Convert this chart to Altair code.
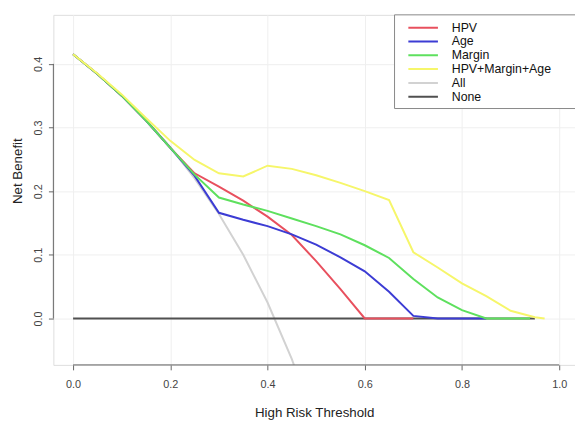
import altair as alt
import pandas as pd

# ---- data ----
series_names = ["HPV", "Age", "Margin", "HPV+Margin+Age", "All", "None"]
series_colors = ["#e8505e", "#3c3cd4", "#5ee05e", "#f6f66a", "#d2d2d2", "#505050"]
series_widths = [2, 2, 2, 2.2, 1.5, 1.5]
draw_order = ["All", "None", "HPV", "Age", "Margin", "HPV+Margin+Age"]

hpv_x = [0, 0.05, 0.1, 0.15, 0.2, 0.25, 0.3, 0.35, 0.4, 0.45, 0.5, 0.55, 0.6, 0.65, 0.7]
hpv_y = [0.415, 0.384, 0.35, 0.311, 0.268, 0.228, 0.207, 0.185, 0.16, 0.131, 0.09, 0.046, 0.0, 0.0, 0.0]

age_x = [0, 0.05, 0.1, 0.15, 0.2, 0.25, 0.3, 0.35, 0.4, 0.45, 0.5, 0.55, 0.6, 0.65, 0.7, 0.75, 0.8, 0.85]
age_y = [0.415, 0.384, 0.35, 0.311, 0.268, 0.224, 0.166, 0.155, 0.145, 0.132, 0.116, 0.096, 0.074, 0.042, 0.004, 0.0, 0.0, 0.0]

margin_x = [0, 0.05, 0.1, 0.15, 0.2, 0.25, 0.3, 0.35, 0.4, 0.45, 0.5, 0.55, 0.6, 0.65, 0.7, 0.75, 0.8, 0.85, 0.9, 0.94]
margin_y = [0.415, 0.384, 0.35, 0.311, 0.268, 0.226, 0.19, 0.179, 0.169, 0.157, 0.145, 0.132, 0.115, 0.095, 0.062, 0.033, 0.013, 0.0, 0.0, 0.0]

combo_x = [0, 0.05, 0.1, 0.15, 0.2, 0.25, 0.3, 0.35, 0.4, 0.45, 0.5, 0.55, 0.6, 0.65, 0.7, 0.75, 0.8, 0.85, 0.9, 0.95, 0.97]
combo_y = [0.415, 0.385, 0.352, 0.315, 0.279, 0.249, 0.228, 0.223, 0.24, 0.235, 0.225, 0.213, 0.2, 0.186, 0.104, 0.08, 0.055, 0.035, 0.012, 0.002, 0.0]

all_x = [0, 0.05, 0.1, 0.15, 0.2, 0.25, 0.3, 0.35, 0.4, 0.45, 0.5]
all_y = [0.415, 0.384, 0.35, 0.312, 0.269, 0.22, 0.164, 0.1, 0.025, -0.064, -0.17]

none_x = [0, 0.95]
none_y = [0.0, 0.0]

x_ticks = [0.0, 0.2, 0.4, 0.6, 0.8, 1.0]
y_ticks = [0.0, 0.1, 0.2, 0.3, 0.4]
x_domain = [-0.0406, 1.0325]
y_domain = [-0.073, 0.477]

series_data = {
    "HPV": (hpv_x, hpv_y),
    "Age": (age_x, age_y),
    "Margin": (margin_x, margin_y),
    "HPV+Margin+Age": (combo_x, combo_y),
    "All": (all_x, all_y),
    "None": (none_x, none_y),
}

rows = []
for name in draw_order:
    xs, ys = series_data[name]
    for i, (xv, yv) in enumerate(zip(xs, ys)):
        rows.append({"series": name, "t": xv, "nb": yv, "i": i})
df = pd.DataFrame(rows)

W, H = 529, 355
FONT = "Liberation Sans"

lines = alt.Chart(df).mark_line(clip=True).encode(
    x=alt.X("t:Q", scale=alt.Scale(domain=x_domain, nice=False, zero=False),
            axis=alt.Axis(values=x_ticks, format=".1f", title="High Risk Threshold",
                          domain=False, tickSize=5, tickColor="#666", tickWidth=1,
                          labelFontSize=11, labelColor="#444", labelPadding=9,
                          labelFont=FONT, titleFont=FONT, titleFontSize=13.5,
                          titleFontWeight="normal", titleColor="#222",
                          titleY=48, titleBaseline="middle",
                          grid=True, gridColor="#efefef")),
    y=alt.Y("nb:Q", scale=alt.Scale(domain=y_domain, nice=False, zero=False),
            axis=alt.Axis(values=y_ticks, format=".1f", title="Net Benefit",
                          domain=False, tickSize=5, tickColor="#666", tickWidth=1,
                          labelFontSize=11, labelColor="#444", labelPadding=5,
                          labelAngle=270, labelAlign="center", labelBaseline="bottom",
                          labelFont=FONT, titleFont=FONT, titleFontSize=13.5,
                          titleFontWeight="normal", titleColor="#222",
                          titleAngle=270, titleX=-36, titleY=158,
                          titleAlign="center", titleBaseline="middle",
                          grid=True, gridColor="#efefef")),
    color=alt.Color("series:N",
                    scale=alt.Scale(domain=series_names, range=series_colors),
                    legend=alt.Legend(title=None, orient="none", legendX=346, legendY=0,
                                      symbolType="stroke", symbolSize=900,
                                      symbolStrokeWidth=2, clipHeight=14, rowPadding=0,
                                      padding=6, symbolOffset=7, labelOffset=13,
                                      labelFont=FONT, labelFontSize=12.5,
                                      labelColor="#111")),
    strokeWidth=alt.StrokeWidth("series:N",
                                scale=alt.Scale(domain=series_names, range=series_widths),
                                legend=None),
    order=alt.Order("i:Q"),
)

axis_x_df = pd.DataFrame({"a": [x_ticks[0]], "b": [x_ticks[-1]]})
axis_y_df = pd.DataFrame({"a": [y_ticks[0]], "b": [y_ticks[-1]]})

x_axis_line = alt.Chart(axis_x_df).mark_rule(color="#666", strokeWidth=1).encode(
    x=alt.X("a:Q"), x2="b:Q", y=alt.value(H))
y_axis_line = alt.Chart(axis_y_df).mark_rule(color="#666", strokeWidth=1).encode(
    y=alt.Y("a:Q"), y2="b:Q", x=alt.value(0))

legend_box = alt.Chart(axis_x_df).mark_rect(fill="white", stroke="#888", strokeWidth=1).encode(
    x=alt.value(346), x2=alt.value(531), y=alt.value(0), y2=alt.value(95))

chart = alt.layer(lines, legend_box, x_axis_line, y_axis_line).properties(
    width=W, height=H,
    autosize=alt.AutoSizeParams(type="none"),
    padding={"left": 46, "top": 4, "right": 0, "bottom": 59},
).configure_view(stroke=None).configure(background="white")

chart.save("out.html", embed_options={"renderer": "svg", "actions": False})
